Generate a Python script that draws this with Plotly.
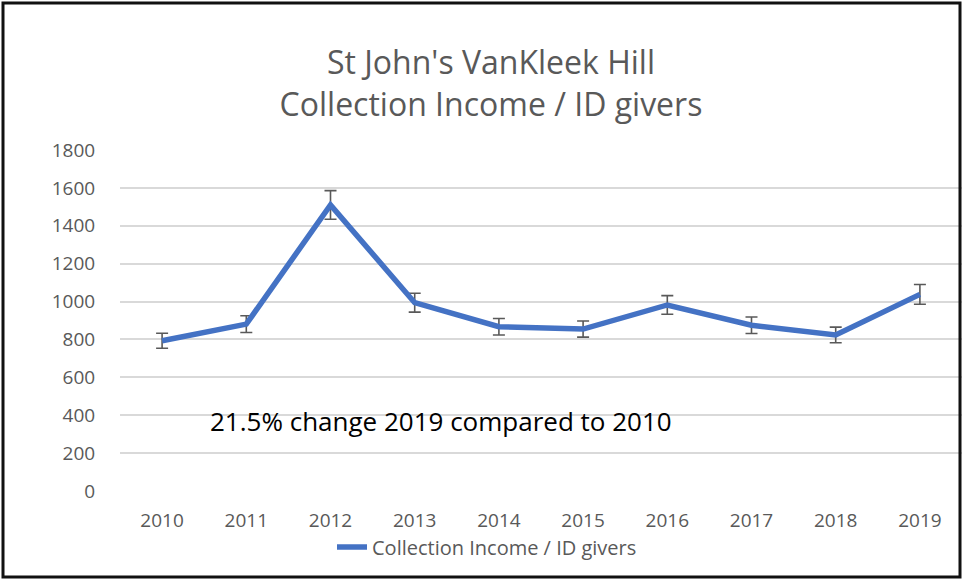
import plotly.graph_objects as go

years = ["2010", "2011", "2012", "2013", "2014", "2015", "2016", "2017", "2018", "2019"]
income_per_giver = [793, 881, 1510, 994, 867, 855, 982, 875, 824, 1038]
error_pct = 5
y_ticks = [0, 200, 400, 600, 800, 1000, 1200, 1400, 1600, 1800]
series_name = "Collection Income / ID givers"
title_lines = ["St John's VanKleek Hill", "Collection Income / ID givers"]
note_text = "21.5% change 2019 compared to 2010"

W, H = 962, 580
L, R, T, B = 120, 0, 150, 89
pw, ph = W - L - R, H - T - B

def px_x(p):
    return (p - L) / pw

def px_y(q):
    return (H - B - q) / ph

fig = go.Figure()
fig.add_trace(go.Scatter(
    x=years, y=income_per_giver, mode="lines", name=series_name,
    line=dict(color="#4472C4", width=5.5),
    error_y=dict(type="percent", value=error_pct, color="#595959", thickness=1.6, width=6),
))

fig.update_layout(
    width=W, height=H,
    margin=dict(l=L, r=R, t=T, b=B),
    paper_bgcolor="white", plot_bgcolor="white",
    font=dict(family="Open Sans", color="#595959"),
    title=dict(text="<br>".join(title_lines), x=491 / W, xref="container", xanchor="center",
               y=1 - 74 / H, yref="container", yanchor="middle",
               font=dict(size=32, color="#595959", family="Open Sans")),
    showlegend=True,
    legend=dict(orientation="h", x=px_x(487), xanchor="center", y=px_y(547), yanchor="middle",
                font=dict(size=20, color="#595959"), bgcolor="rgba(0,0,0,0)"),
    xaxis=dict(type="category", range=[-0.5, len(years) - 0.5], showgrid=False, zeroline=False,
               showline=False, ticks="outside", ticklen=12, tickcolor="rgba(0,0,0,0)",
               tickfont=dict(size=19, color="#595959")),
    yaxis=dict(range=[0, 1800], tickvals=y_ticks, showgrid=True, gridcolor="#d9d9d9", gridwidth=1.5,
               zeroline=False, showline=False, ticks="outside", ticklen=20,
               tickcolor="rgba(0,0,0,0)", tickfont=dict(size=19, color="#595959")),
    annotations=[dict(text=note_text, xref="paper", yref="paper", x=px_x(208), y=px_y(421),
                      xanchor="left", yanchor="middle", showarrow=False,
                      font=dict(size=26, color="#000000", family="Open Sans"))],
    shapes=[dict(type="rect", xref="paper", yref="paper",
                 x0=px_x(3), x1=px_x(960), y0=px_y(577), y1=px_y(3),
                 line=dict(color="#111111", width=3), fillcolor="rgba(0,0,0,0)", layer="above")],
)

fig.write_html("out.html", config={"displayModeBar": False},
               post_script="document.body.style.margin='0';")
